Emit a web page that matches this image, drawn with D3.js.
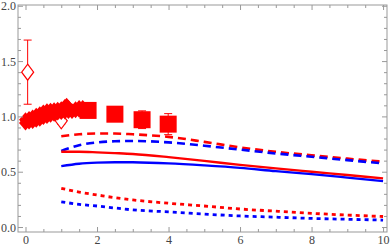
<!DOCTYPE html>
<html>
<head>
<meta charset="utf-8">
<script src="https://cdn.jsdelivr.net/npm/d3@7"></script>
<style>
  body { margin: 0; background: #fff; }
  svg { display: block; }
  .tick text { font-family: "Liberation Serif", "DejaVu Serif", serif; font-size: 12px; fill: #444; }
</style>
</head>
<body>
<div id="chart"></div>
<script>
// 1. Data
const curveX = [1, 1.5, 2, 2.5, 3, 4, 5, 6, 7, 8, 9, 10];
const redDashed  = [0.82, 0.838, 0.845, 0.845, 0.838, 0.815, 0.77, 0.72, 0.68, 0.648, 0.618, 0.59];
const blueDashed = [0.687, 0.74, 0.765, 0.775, 0.778, 0.765, 0.735, 0.70, 0.665, 0.635, 0.605, 0.575];
const redSolid   = [0.68, 0.68, 0.675, 0.668, 0.66, 0.632, 0.598, 0.562, 0.53, 0.50, 0.47, 0.44];
const blueSolid  = [0.55, 0.572, 0.582, 0.586, 0.585, 0.575, 0.557, 0.535, 0.505, 0.478, 0.447, 0.415];
const redDotted  = [0.35, 0.315, 0.29, 0.265, 0.245, 0.215, 0.19, 0.163, 0.143, 0.124, 0.108, 0.095];
const blueDotted = [0.228, 0.205, 0.19, 0.172, 0.155, 0.137, 0.117, 0.10, 0.089, 0.078, 0.07, 0.063];

// filled diamonds
const diamondX = [0.0, 0.1, 0.2, 0.3, 0.4, 0.5, 0.6, 0.7, 0.8, 0.9, 1.0, 1.1, 1.15, 1.2, 1.3, 1.4, 1.5, 1.6,
                  0.0, 0.1, 0.2, 0.3, 0.4, 0.5, 0.6, 0.7, 0.8, 0.9, 1.0, 1.1, 1.2, 1.3, 1.4, 1.5];
const diamondY = [0.97, 0.98, 0.995, 1.01, 1.025, 1.04, 1.05, 1.055, 1.06, 1.065, 1.07, 1.09, 1.10, 1.08, 1.05, 1.07, 1.08, 1.08,
                  0.94, 0.95, 0.955, 0.965, 0.975, 0.99, 1.0, 1.01, 1.02, 1.03, 1.035, 1.04, 1.045, 1.045, 1.05, 1.055];

// filled squares with error bars
const squareX = [1.75, 2.5, 3.26, 3.99];
const squareY = [1.054, 1.02, 0.97, 0.93];
const squareErr = [0.05, 0.06, 0.08, 0.095];

// open diamonds with error bars
const openX = [0.06, 1.0];
const openY = [1.40, 0.96];
const openErr = [0.29, 0.03];

const xTicks = [0, 2, 4, 6, 8, 10];
const yTicks = [0, 0.5, 1.0, 1.5, 2.0];

// 2. Dimensions
const dimensions = {
  width: 390,
  height: 249,
  margin: { top: 5, right: 3, bottom: 17, left: 18 }
};
dimensions.boundedWidth = dimensions.width - dimensions.margin.left - dimensions.margin.right;
dimensions.boundedHeight = dimensions.height - dimensions.margin.top - dimensions.margin.bottom;

const colors = { red: "#ff0000", blue: "#0000ff", frame: "#999" };

// 3. Canvas
const wrapper = d3.select("#chart").append("svg")
    .attr("width", dimensions.width)
    .attr("height", dimensions.height);

const bounds = wrapper.append("g")
    .attr("transform", `translate(${dimensions.margin.left},${dimensions.margin.top})`);

// 4. Scales
const xScale = d3.scaleLinear()
    .domain([-0.21, 10.11])
    .range([0, dimensions.boundedWidth]);

const yScale = d3.scaleLinear()
    .domain([-0.045, 2.007])
    .range([dimensions.boundedHeight, 0]);

// 5. Curves
const lineGenerator = d3.line()
    .x(d => xScale(d[0]))
    .y(d => yScale(d[1]))
    .curve(d3.curveMonotoneX);

const series = [
  { values: redDashed, color: colors.red, dash: "8,5", width: 2.6 },
  { values: blueDashed, color: colors.blue, dash: "8,5", width: 2.6 },
  { values: redSolid, color: colors.red, dash: null, width: 2.4 },
  { values: blueSolid, color: colors.blue, dash: null, width: 2.4 },
  { values: redDotted, color: colors.red, dash: "4,4", width: 2.8 },
  { values: blueDotted, color: colors.blue, dash: "4,4", width: 2.8 }
];

series.forEach(s => {
  bounds.append("path")
      .attr("d", lineGenerator(curveX.map((x, i) => [x, s.values[i]])))
      .attr("fill", "none")
      .attr("stroke", s.color)
      .attr("stroke-width", s.width)
      .attr("stroke-dasharray", s.dash);
});

// 6. Points
const diamondPath = (hw, hh) => `M0,${-hh}L${hw},0L0,${hh}L${-hw},0Z`;

// open diamonds with error bars (drawn first, partly hidden by filled ones)
const od = bounds.append("g");
openX.forEach((x, i) => {
  const cx = xScale(x);
  const lo = yScale(openY[i] - openErr[i]);
  const hi = yScale(openY[i] + openErr[i]);
  od.append("line").attr("x1", cx).attr("x2", cx).attr("y1", lo).attr("y2", hi)
    .attr("stroke", colors.red).attr("stroke-width", 1);
  [lo, hi].forEach(yy => od.append("line")
    .attr("x1", cx - 4).attr("x2", cx + 4).attr("y1", yy).attr("y2", yy)
    .attr("stroke", colors.red).attr("stroke-width", 1));
  od.append("path")
    .attr("d", diamondPath(6, 8))
    .attr("transform", `translate(${cx},${yScale(openY[i])})`)
    .attr("fill", "#fff")
    .attr("stroke", colors.red)
    .attr("stroke-width", 1.2);
});

bounds.append("g").selectAll("path")
  .data(diamondX.map((x, i) => [x, diamondY[i]]))
  .join("path")
    .attr("d", diamondPath(6.5, 7.5))
    .attr("transform", d => `translate(${xScale(d[0])},${yScale(d[1])})`)
    .attr("fill", colors.red);

// squares with error bars
const sq = bounds.append("g");
squareX.forEach((x, i) => {
  const cx = xScale(x);
  const lo = yScale(squareY[i] - squareErr[i]);
  const hi = yScale(squareY[i] + squareErr[i]);
  sq.append("line").attr("x1", cx).attr("x2", cx).attr("y1", lo).attr("y2", hi)
    .attr("stroke", colors.red).attr("stroke-width", 1);
  [lo, hi].forEach(yy => sq.append("line")
    .attr("x1", cx - 4).attr("x2", cx + 4).attr("y1", yy).attr("y2", yy)
    .attr("stroke", colors.red).attr("stroke-width", 1));
  sq.append("rect")
    .attr("x", cx - 8.5).attr("y", yScale(squareY[i]) - 8.5)
    .attr("width", 17).attr("height", 17)
    .attr("fill", colors.red);
});

// 7. Frame and ticks (inward, Mathematica style)
const xMinor = d3.range(0, 10.01, 0.5).filter(v => !xTicks.includes(v));
const yMinor = d3.range(0, 2.01, 0.1).map(v => +v.toFixed(1)).filter(v => !yTicks.includes(v));

function styleAxis(g) {
  g.select(".domain").remove();
  g.selectAll(".tick line").attr("stroke", colors.frame);
}

const W = dimensions.boundedWidth, H = dimensions.boundedHeight;

bounds.append("g").attr("transform", `translate(0,${H})`)
  .call(d3.axisBottom(xScale).tickValues(xTicks).tickFormat(d3.format("d")).tickSizeInner(-5).tickPadding(3))
  .call(styleAxis);
bounds.append("g").attr("transform", `translate(0,${H})`)
  .call(d3.axisBottom(xScale).tickValues(xMinor).tickFormat("").tickSizeInner(-3))
  .call(styleAxis);
bounds.append("g")
  .call(d3.axisTop(xScale).tickValues(xTicks).tickFormat("").tickSizeInner(-5))
  .call(styleAxis);
bounds.append("g")
  .call(d3.axisTop(xScale).tickValues(xMinor).tickFormat("").tickSizeInner(-3))
  .call(styleAxis);

bounds.append("g")
  .call(d3.axisLeft(yScale).tickValues(yTicks).tickFormat(d3.format(".1f")).tickSizeInner(-5).tickPadding(2))
  .call(styleAxis)
  .call(g => g.selectAll(".tick text").attr("dy", "0.34em"));
bounds.append("g")
  .call(d3.axisLeft(yScale).tickValues(yMinor).tickFormat("").tickSizeInner(-3))
  .call(styleAxis);
bounds.append("g").attr("transform", `translate(${W},0)`)
  .call(d3.axisRight(yScale).tickValues(yTicks).tickFormat("").tickSizeInner(-5))
  .call(styleAxis);
bounds.append("g").attr("transform", `translate(${W},0)`)
  .call(d3.axisRight(yScale).tickValues(yMinor).tickFormat("").tickSizeInner(-3))
  .call(styleAxis);

bounds.append("rect")
    .attr("width", W).attr("height", H)
    .attr("fill", "none")
    .attr("stroke", colors.frame)
    .attr("stroke-width", 1);
</script>
</body>
</html>
